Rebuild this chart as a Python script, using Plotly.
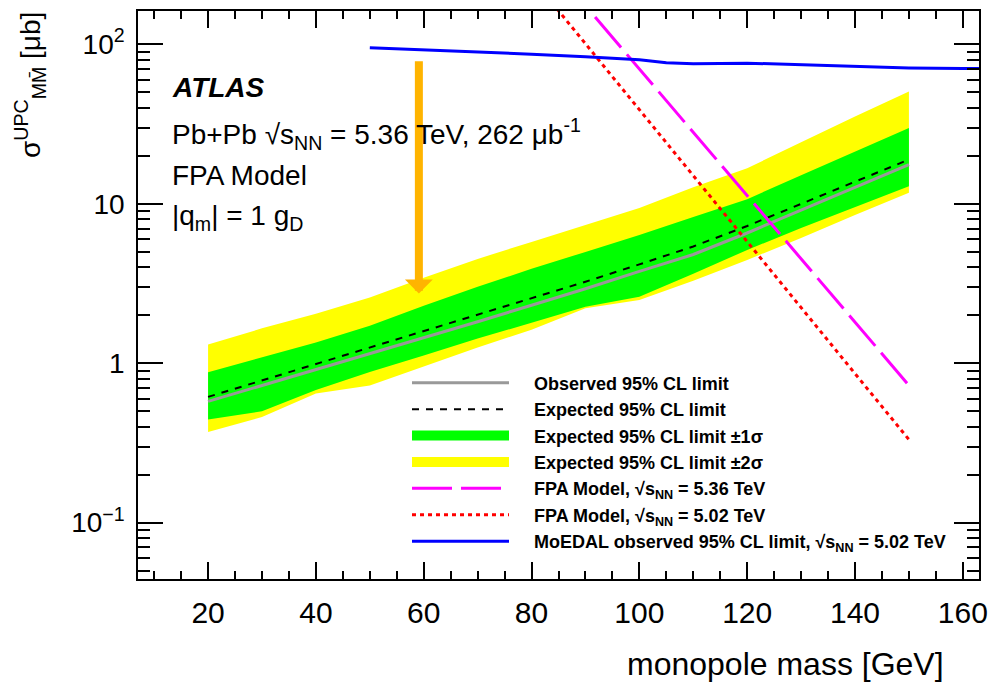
import math
import plotly.graph_objects as go

# ---------------- data ----------------
mass = [20, 30, 40, 50, 60, 70, 80, 90, 100, 110, 120, 130, 140, 150]
observed = [0.576, 0.725, 0.913, 1.145, 1.437, 1.822, 2.311, 2.93, 3.77, 4.81, 6.56, 9.13, 12.72, 17.63]
expected = [0.615, 0.780, 0.989, 1.248, 1.578, 2.001, 2.556, 3.242, 4.169, 5.401, 7.255, 9.96, 13.76, 18.95]
exp_p1 = [0.878, 1.086, 1.347, 1.72, 2.294, 3.017, 3.908, 4.991, 6.373, 8.258, 10.70, 15.12, 21.35, 29.85]
exp_m1 = [0.443, 0.50, 0.68, 0.88, 1.117, 1.427, 1.796, 2.262, 2.612, 3.637, 5.136, 7.05, 9.54, 12.9]
exp_p2 = [1.309, 1.655, 2.045, 2.585, 3.433, 4.511, 5.763, 7.36, 9.40, 12.72, 16.72, 24.30, 35.33, 50.6]
exp_m2 = [0.370, 0.460, 0.646, 0.725, 0.954, 1.254, 1.624, 2.213, 2.490, 3.287, 4.447, 6.106, 8.50, 11.72]

fpa_mass = [80, 90, 100, 110, 120, 130, 140, 150]
fpa_536 = [436, 175, 70.1, 28.1, 11.3, 4.52, 1.81, 0.726]
fpa_502 = [262, 101, 39.0, 15.0, 5.79, 2.23, 0.861, 0.332]

moedal_mass = [50, 60, 70, 80, 90, 100, 105, 110, 120, 130, 140, 150, 160, 163]
moedal = [95.3, 92.6, 89.4, 86.8, 83.6, 80.0, 76.6, 75.6, 76.3, 74.4, 72.2, 71.1, 70.5, 70.5]

arrow_mass = 59.1
arrow_top = 80.0
arrow_tip = 2.74

x_range = [7, 163]
y_range = [0.0443, 162.0]
x_ticks = [20, 40, 60, 80, 100, 120, 140, 160]
y_ticks = [0.1, 1, 10, 100]
y_ticktext = ["10<sup>\u22121</sup>", "1", "10", "10<sup>2</sup>"]
y_minor = [m * 10 ** e for e in (-2, -1, 0, 1, 2) for m in range(2, 10)]

legend_names = [
    "Observed 95% CL limit",
    "Expected 95% CL limit",
    "Expected 95% CL limit \u00b11\u03c3",
    "Expected 95% CL limit \u00b12\u03c3",
    "FPA Model, \u221as<sub>NN</sub> = 5.36 TeV",
    "FPA Model, \u221as<sub>NN</sub> = 5.02 TeV",
    "MoEDAL observed 95% CL limit, \u221as<sub>NN</sub> = 5.02 TeV",
]

FONT = "Arial, Liberation Sans, Helvetica, sans-serif"
PAD = "\u00a0" * 4

fig = go.Figure()

# bands (legend shown via dedicated entries below)
fig.add_trace(go.Scatter(
    x=mass + mass[::-1], y=exp_p2 + exp_m2[::-1], fill="toself",
    fillcolor="#ffff00", line=dict(width=0, color="#ffff00"), mode="lines",
    showlegend=False, hoverinfo="skip"))
fig.add_trace(go.Scatter(
    x=mass + mass[::-1], y=exp_p1 + exp_m1[::-1], fill="toself",
    fillcolor="#00ff00", line=dict(width=0, color="#00ff00"), mode="lines",
    showlegend=False, hoverinfo="skip"))
# lines
fig.add_trace(go.Scatter(
    x=mass, y=observed, mode="lines", line=dict(color="#999999", width=3),
    name=PAD + legend_names[0], legendrank=1, legendgroup="g1"))
fig.add_trace(go.Scatter(
    x=mass, y=expected, mode="lines", line=dict(color="black", width=2, dash="7px,7px"),
    name=PAD + legend_names[1], legendrank=2, legendgroup="g2"))
# legend entries for the bands
fig.add_trace(go.Scatter(
    x=[None], y=[None], mode="lines", line=dict(color="#00ff00", width=20),
    name=PAD + legend_names[2], legendrank=3, legendgroup="g3"))
fig.add_trace(go.Scatter(
    x=[None], y=[None], mode="lines", line=dict(color="#ffff00", width=20),
    name=PAD + legend_names[3], legendrank=4, legendgroup="g4"))
fig.add_trace(go.Scatter(
    x=fpa_mass, y=fpa_536, mode="lines", line=dict(color="#ff00ff", width=3, dash="40px,9px"),
    name=PAD + legend_names[4], legendrank=5, legendgroup="g5"))
fig.add_trace(go.Scatter(
    x=fpa_mass, y=fpa_502, mode="lines", line=dict(color="#ff0000", width=3, dash="4px,4px"),
    name=PAD + legend_names[5], legendrank=6, legendgroup="g6"))
fig.add_trace(go.Scatter(
    x=moedal_mass, y=moedal, mode="lines", line=dict(color="#0000ff", width=3),
    name=PAD + legend_names[6], legendrank=7, legendgroup="g7"))

# arrow
fig.add_annotation(
    x=arrow_mass, y=math.log10(arrow_tip), ax=arrow_mass, ay=math.log10(arrow_top),
    xref="x", yref="y", axref="x", ayref="y", text="", showarrow=True,
    arrowhead=1, arrowwidth=8, arrowsize=0.58, arrowcolor="#ffb400", standoff=0)

# helpers: screen pixel -> paper coordinates (plot area 138..979 x 9..579.3)
def paper_y(py):
    return (579.3 - py) / 570.3

def paper_x(px):
    return (px - 138) / 841

txt = [
    ("<b><i>ATLAS</i></b>", 86),
    ("Pb+Pb \u221as<sub>NN</sub> = 5.36 TeV, 262 \u03bcb<sup>-1</sup>", 132),
    ("FPA Model", 174),
    ("|q<sub>m</sub>| = 1 g<sub>D</sub>", 216),
]
for t, py in txt:
    fig.add_annotation(x=paper_x(170), y=paper_y(py), xref="paper", yref="paper",
                       text=t, showarrow=False, xanchor="left", yanchor="middle",
                       font=dict(family=FONT, size=28, color="black"))

# axis titles
fig.add_annotation(x=paper_x(946), y=paper_y(665), xref="paper", yref="paper",
                   text="monopole mass [GeV]", showarrow=False, xanchor="right", yanchor="middle",
                   font=dict(family=FONT, size=32, color="black"))
fig.add_annotation(x=paper_x(30), y=paper_y(8), xref="paper", yref="paper",
                   text="\u03c3<sup>UPC</sup><sub>MM\u0304</sub> [\u03bcb]", showarrow=False,
                   textangle=-90, xanchor="center", yanchor="top",
                   font=dict(family=FONT, size=28, color="black"))

# page body has an 8px margin: figure is 994x688 and placed at (8,8)
fig.update_layout(
    width=994, height=688,
    margin=dict(l=130, r=23, t=1, b=116.7),
    paper_bgcolor="white", plot_bgcolor="white",
    showlegend=True,
    legend=dict(x=paper_x(407), y=paper_y(364), xanchor="left", yanchor="top",
                bgcolor="rgba(0,0,0,0)", borderwidth=0,
                font=dict(family=FONT, size=18, color="black", weight="bold"),
                itemwidth=97, tracegroupgap=6, traceorder="normal"),
    xaxis=dict(type="linear", range=x_range, tickvals=x_ticks,
               ticks="inside", ticklen=17, tickwidth=1.5, tickcolor="black",
               showline=True, linecolor="black", linewidth=1.5, mirror="ticks",
               showgrid=False, zeroline=False,
               tickfont=dict(family=FONT, size=30, color="black"),
               ticklabelstandoff=6,
               minor=dict(dtick=5, tick0=0, ticks="inside", ticklen=8, tickwidth=1.5,
                          tickcolor="black", showgrid=False)),
    yaxis=dict(type="log", range=[math.log10(y_range[0]), math.log10(y_range[1])],
               tickmode="array", tickvals=y_ticks, ticktext=y_ticktext,
               ticks="inside", ticklen=25, tickwidth=1.5, tickcolor="black",
               showline=True, linecolor="black", linewidth=1.5, mirror="ticks",
               showgrid=False, zeroline=False,
               tickfont=dict(family=FONT, size=28, color="black"),
               ticklabelstandoff=6,
               minor=dict(tickmode="array", tickvals=y_minor, ticks="inside", ticklen=12,
                          tickwidth=1.5, tickcolor="black", showgrid=False)),
)

fig.write_html("out.html")
